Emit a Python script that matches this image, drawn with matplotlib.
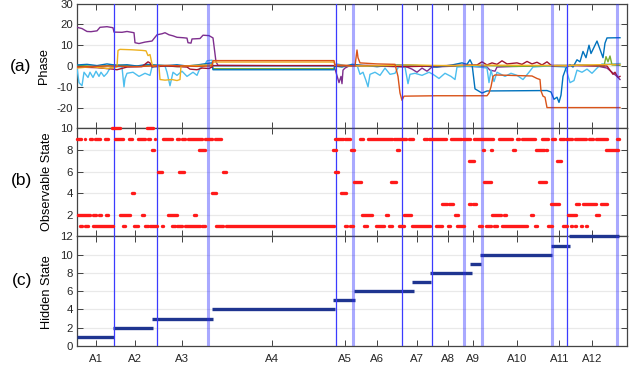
import numpy as np
import matplotlib
matplotlib.use("Agg")
import matplotlib.pyplot as plt

plt.rcParams['font.family'] = ['Liberation Sans', 'DejaVu Sans']
plt.rcParams['axes.unicode_minus'] = False

# time axis (samples)
t_max = 550

# activity segment boundaries; the "soft" ones are drawn wider and faded
bounds_hard = [36.7, 80.3, 259.3, 324.7, 355.3, 490.3]
bounds_soft = [130.7, 275.7, 386.7, 405.3, 474.7, 539.7]

# activity tick positions and names
act_pos = [18.7, 58, 105, 195, 268, 300.3, 340.3, 371, 395.7, 440.3, 482.3, 515.3]
act_names = ['A1', 'A2', 'A3', 'A4', 'A5', 'A6', 'A7', 'A8', 'A9', 'A10', 'A11', 'A12']

# (a) phase traces, (t, phase) breakpoints
phase_purple = [(0, 18.6), (5, 18.0), (10, 16.6), (14, 16.5), (20, 16.9), (23, 18.6), (30, 18.9),
                (36, 18.4), (37, 16.3), (45, 16.2), (50, 16.6), (57, 16.0), (58, 11.2), (62, 10.8),
                (68, 11.5), (75, 12.0), (80, 15.0), (85, 15.5), (88, 16.0), (92, 15.0), (96, 14.5),
                (100, 13.8), (106, 13.6), (110, 13.4), (111, 11.2), (114, 11.0), (115, 13.0),
                (123, 13.2), (126, 14.8), (132, 14.6), (136, 13.5), (139, 2.0), (141, 0.3),
                (257, 0.0), (259, -3.0), (262, -8.0), (264, -5.0), (265, -8.5), (266, -2.0),
                (268, -1.0), (272, 0.0), (300, 0.0), (330, -0.5), (335, -1.5), (340, -3.0),
                (345, -1.0), (350, -2.5), (355, -0.5), (380, 0.0), (410, -0.5), (413, -2.0),
                (418, -2.5), (420, -0.5), (450, 0.0), (480, 0.3), (520, 0.0), (530, -1.0),
                (535, -3.0), (540, -5.0), (543, -6.5)]
phase_lightblue = [(0, -1), (2, -8), (5, -9.5), (7, -3), (11, -5.5), (13, -3), (16, -5.5), (19, -2.5),
                   (22, -5), (24, -3), (27, -5), (30, -3.5), (33, -1), (36, 0), (45, -0.5), (47, -10),
                   (48, -6), (50, -3.5), (56, -3), (62, -5), (68, -3.5), (73, -4.5), (75, -0.5),
                   (88, 0), (90, -3), (93, -9.5), (96, -3), (100, -4.5), (105, -2.5), (110, -5),
                   (116, -3), (120, -4.5), (123, -1), (127, 0), (130, 2.5), (135, 2.8), (136, 0),
                   (257, 0), (260, 1), (270, 0), (280, 0.5), (283, -4), (286, -3), (289, -7),
                   (291, -10), (293, -4), (298, -3), (303, -4.5), (308, -1), (313, -4), (318, -3.5),
                   (322, 0), (328, -0.5), (331, -8.5), (333, -4), (338, -3.5), (345, -4.5),
                   (352, -3), (356, -4), (362, -6), (368, -3.5), (374, -5), (378, -6.5),
                   (380, -0.5), (395, 0), (410, -1), (412, -8), (414, -2), (417, -7.5), (420, -3),
                   (424, -4), (428, -5), (434, -3.5), (440, -4.5), (446, -6.5), (452, -3),
                   (456, -0.5), (470, 0), (488, -0.5), (490, -3), (493, -8), (497, -7), (500, -2),
                   (505, -3), (510, -1.5), (515, -3.5), (520, -1), (525, 1), (530, 0.8), (543, 1.2)]
phase_yellow = [(0, -1), (15, -0.3), (30, -1.2), (40, -0.5), (41, 7.5), (43, 8.0), (55, 7.8),
                (65, 7.5), (69, 7.3), (71, 5), (73, 5.5), (75, 1), (76, 0), (80, 0.3), (82, -0.5),
                (83, -6.5), (88, -6.8), (95, -6.5), (100, -7), (103, -6.5), (104, 0), (120, 0.3),
                (135, 0.5), (136, 1.9), (257, 1.9), (258, 0.3), (290, 0), (330, 0.5), (370, 0.2),
                (410, 0.4), (450, 0.3), (490, 0.2), (520, 0.6), (543, 0.8)]
phase_orange = [(0, -0.5), (30, 0), (60, -0.3), (90, 0.3), (120, -0.2), (135, 0), (136, 2.6),
                (257, 2.6), (258, 0.5), (270, 0.3), (278, 0), (280, 7.7), (281, 4), (283, 1.5),
                (300, 1.0), (318, 0.8), (321, -5), (323, -13), (325, -16.5), (327, -14.5),
                (360, -14.3), (410, -14.3), (412, -13), (414, -10), (416, -5), (418, -4.3),
                (440, -4.6), (455, -4.8), (460, -6), (463, -6.5), (464, -12), (466, -14.5),
                (468, -15), (470, -20), (543, -20)]
phase_blue = [(0, 0.5), (10, 0.8), (20, 0.2), (30, 1.0), (40, 0.3), (50, 0.6), (60, 0.0), (70, 0.8),
              (80, 0.4), (90, 0.2), (100, 0.6), (110, 0.0), (120, 0.5), (130, 1.2), (135, 1.5),
              (136, -1.8), (257, -1.8), (258, 0.0), (265, -0.5), (275, 0.8), (285, 0.3), (300, -0.3),
              (320, 0.5), (340, 0.2), (360, -0.5), (375, 0.5), (385, 1.5), (390, 0.8), (393, 3.0),
              (395, 1.0), (398, -11), (405, -13), (410, -12), (470, -11.8), (474, -12.5),
              (477, -16), (480, -15), (482, -17.5), (484, -14), (486, -5), (489, -1), (493, 0.5),
              (496, -0.5), (500, 3), (503, 2), (506, 7), (509, 4), (512, 10), (514, 6), (517, 9),
              (520, 12), (523, 8), (526, 4), (528, 11), (530, 13.5), (543, 13.6)]
phase_green = [(0, 0.3), (20, -0.2), (40, 0.5), (60, 0), (80, 0.4), (100, -0.3), (120, 0.2),
               (135, 0.5), (136, -1.3), (257, -1.3), (258, 0), (280, 0.3), (300, -0.2), (330, 0.4),
               (360, 0), (400, 0.3), (440, -0.2), (480, 0.2), (510, 0.4), (527, 0), (529, 4.5),
               (531, 2), (533, 4.8), (535, 0.5), (543, 0.3)]
phase_darkred = [(0, -0.5), (20, -0.8), (36, -1.5), (40, -1.8), (50, -0.5), (65, -0.3), (71, 2.0),
                 (73, 1.5), (75, -0.5), (77, -0.3), (90, 0), (110, -0.5), (113, -1.5), (120, -1.8),
                 (125, -1), (132, -1.2), (135, -0.5), (136, 0.2), (257, 0.2), (258, 0), (290, 0.3),
                 (330, -0.3), (370, 0.2), (400, 0.5), (405, 2), (410, 0.5), (415, 1.5), (420, 0.8),
                 (425, 2.5), (430, 1), (440, 1.5), (445, 0.8), (450, 2.2), (455, 1), (460, 1.8),
                 (465, 0.5), (470, 2), (475, 0), (500, 0.3), (530, 0), (533, -2), (536, -4),
                 (538, -3), (541, -5.5), (543, -5)]

# (b) observable state: runs of samples (start, end) per state
obs_10 = [(35, 43), (70, 76)]
obs_9 = [(0, 4), (8, 8), (13, 15), (18, 23), (28, 31), (38, 46), (52, 55), (61, 68), (71, 73), (78, 78),
         (86, 95), (100, 102), (105, 108), (111, 120), (121, 125), (128, 135), (138, 144), (258, 266),
         (268, 273), (283, 286), (291, 301), (302, 315), (317, 329), (332, 336), (347, 350), (352, 369),
         (374, 384), (386, 393), (397, 406), (407, 411), (412, 416), (422, 435), (440, 442), (445, 458),
         (465, 471), (475, 478), (483, 487), (489, 495), (498, 509), (512, 516), (519, 530), (540, 542)]
obs_8 = [(75, 77), (122, 128), (256, 259), (274, 277), (320, 322), (406, 407), (414, 415), (436, 438),
         (459, 467), (469, 470), (529, 541)]
obs_7 = [(392, 397), (480, 484)]
obs_6 = [(81, 85), (102, 107), (146, 149), (258, 261)]
obs_5 = [(277, 284), (314, 319), (407, 414), (462, 469)]
obs_4 = [(55, 57), (135, 139), (264, 269)]
obs_3 = [(365, 370), (372, 376), (392, 394), (396, 399), (474, 482), (499, 502), (506, 519), (524, 530)]
obs_2 = [(1, 13), (16, 19), (22, 24), (29, 31), (43, 53), (65, 67), (91, 100), (117, 119), (285, 295),
         (309, 311), (327, 334), (378, 381), (415, 424), (427, 429), (454, 456), (491, 499), (519, 522)]
obs_1 = [(3, 5), (8, 11), (16, 20), (21, 30), (31, 36), (46, 48), (57, 61), (68, 71), (73, 80), (85, 86),
         (95, 98), (100, 105), (108, 123), (125, 128), (139, 142), (143, 146), (149, 257), (268, 270),
         (273, 276), (287, 290), (299, 307), (312, 315), (322, 327), (335, 353), (359, 365), (371, 373),
         (380, 387), (402, 405), (409, 414), (417, 420), (425, 450), (458, 460), (471, 475), (486, 490),
         (494, 495), (498, 499), (504, 505), (509, 510)]

# (c) hidden state segments
hidden_start = [0, 36, 75, 135, 256, 277, 335, 353, 393, 403, 474, 492]
hidden_end = [37, 76, 136, 258, 278, 337, 354, 395, 404, 475, 493, 542]
hidden_state = [1, 2, 3, 4, 5, 6, 7, 8, 9, 10, 11, 12]

fig = plt.figure(figsize=(6.41, 3.70), dpi=100)
W, H = 641, 370
left, width = 77 / W, 550 / W
ax_a = fig.add_axes([left, 1 - 128.4 / H, width, 124.8 / H])
ax_b = fig.add_axes([left, 1 - 236.4 / H, width, 108.0 / H])
ax_c = fig.add_axes([left, 1 - 346.0 / H, width, 109.6 / H])

for ax in (ax_a, ax_b, ax_c):
    ax.set_xlim(0, t_max)
    ax.set_xticks(act_pos)
    ax.tick_params(direction='in', length=4, width=0.7, color='#404040',
                   top=True, right=True, labelsize=8.2, labelcolor='#262626', pad=3)
    ax.yaxis.grid(True, color='#e9e9e9', lw=0.9)
    ax.set_axisbelow(True)
    for sp in ax.spines.values():
        sp.set_color('#444444')
        sp.set_linewidth(0.9)
    for b in bounds_hard:
        ax.axvline(b, color='#3b3bff', lw=0.9, zorder=4)
    for b in bounds_soft:
        ax.axvline(b, color='#2a2aff', lw=2.2, alpha=0.4, zorder=4)

# (a)
for series, col in [(phase_purple, '#7E2F8E'), (phase_lightblue, '#4DBEEE'), (phase_green, '#77AC30'),
                    (phase_blue, '#0072BD'), (phase_darkred, '#A2142F'), (phase_yellow, '#EDB120'),
                    (phase_orange, '#D95319')]:
    t, v = zip(*series)
    ax_a.plot(t, v, color=col, lw=1.0, zorder=3)
ax_a.set_ylim(-30, 30)
ax_a.set_yticks([-30, -20, -10, 0, 10, 20, 30])
ax_a.set_yticklabels(['', '-20', '-10', '0', '10', '20', '30'])
ax_a.set_xticklabels([])

# (b)
for state, runs in [(10, obs_10), (9, obs_9), (8, obs_8), (7, obs_7), (6, obs_6), (5, obs_5),
                    (4, obs_4), (3, obs_3), (2, obs_2), (1, obs_1)]:
    for a, b in runs:
        ts = np.arange(a, b + 1, 1.0)
        ax_b.plot(ts, np.full(len(ts), state), 'o', color='#ff1a1a', ms=2.4, mew=0,
                  clip_on=False, zorder=6)
ax_b.set_ylim(0, 10)
ax_b.set_yticks([0, 2, 4, 6, 8, 10])
ax_b.set_yticklabels(['', '2', '4', '6', '8', '10'])
ax_b.set_xticklabels([])

# (c)
ax_c.hlines(hidden_state, hidden_start, hidden_end, color='#1f3590', lw=2.4, zorder=3,
            clip_on=False)
ax_c.set_ylim(0, 12)
ax_c.set_yticks(range(0, 13, 2))
ax_c.set_xticklabels(act_names)
ax_c.tick_params(axis='x', pad=6)

# panel labels and y titles
fig.text(44 / W, 1 - 66 / H, 'Phase', rotation=90, ha='center', va='center', fontsize=9.2)
fig.text(47 / W, 1 - 182 / H, 'Observable State', rotation=90, ha='center', va='center', fontsize=9.2)
fig.text(47 / W, 1 - 292 / H, 'Hidden State', rotation=90, ha='center', va='center', fontsize=9.2)
fig.text(21 / W, 1 - 67 / H, '(a)', ha='center', va='center', fontsize=12.5)
fig.text(22 / W, 1 - 180 / H, '(b)', ha='center', va='center', fontsize=12.5)
fig.text(22 / W, 1 - 281 / H, '(c)', ha='center', va='center', fontsize=12.5)

fig.savefig('out.png', dpi=100)
